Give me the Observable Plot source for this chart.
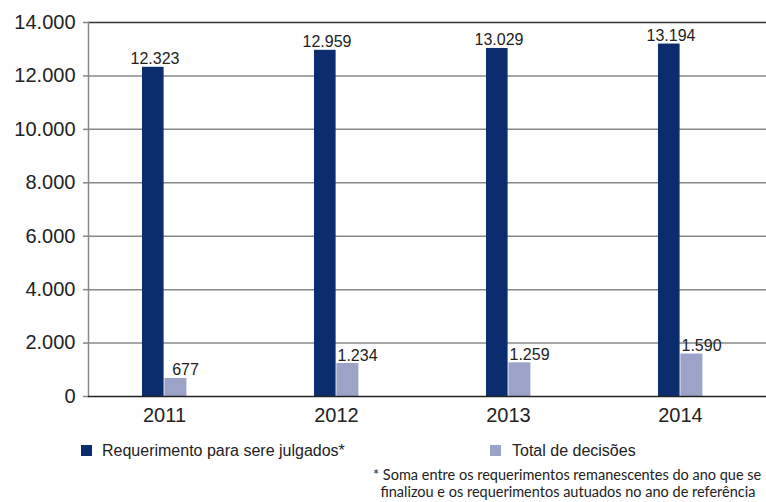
<!DOCTYPE html>
<html>
<head>
<meta charset="utf-8">
<script src="https://cdn.jsdelivr.net/npm/d3@7"></script>
<script src="https://cdn.jsdelivr.net/npm/@observablehq/plot@0.6"></script>
<style>
  html, body { margin: 0; padding: 0; background: #fff; }
  #wrap { position: relative; width: 766px; height: 502px; overflow: hidden; font-family: "Liberation Sans", Arial, sans-serif; }
  #chart { position: absolute; left: 0; top: 0; }
  .leg { position: absolute; font-size: 16px; color: #222; white-space: nowrap; line-height: 16px; }
  .sw { position: absolute; width: 11px; height: 11px; }
  .note { position: absolute; left: 373px; top: 466px; font-family: "Lato", "Open Sans", sans-serif; font-size: 14.5px; line-height: 17px; color: #222; white-space: nowrap; }
</style>
</head>
<body>
<div id="wrap">
  <div id="chart"></div>
  <div class="sw" style="left:81px; top:445px; background:#0b2d6e;"></div>
  <div class="leg" style="left:102px; top:443px;">Requerimento para sere julgados*</div>
  <div class="sw" style="left:490px; top:445px; background:#9ca3c7;"></div>
  <div class="leg" style="left:512px; top:443px;">Total de decisões</div>
  <div class="note">* Soma entre os requerimentos remanescentes do ano que se<br>&nbsp;&nbsp;finalizou e os requerimentos autuados no ano de referência</div>
</div>
<script>
const years = ["2011", "2012", "2013", "2014"];
const requerimentos = [12323, 12959, 13029, 13194];
const decisoes = [677, 1234, 1259, 1590];
const yTicks = [0, 2000, 4000, 6000, 8000, 10000, 12000, 14000];

const locale = d3.formatLocale({decimal: ",", thousands: ".", grouping: [3], currency: ["R$", ""]});
const fmt = locale.format(",d");

const dataReq = years.map((year, i) => ({year, value: requerimentos[i]}));
const dataDec = years.map((year, i) => ({year, value: decisoes[i]}));

const DARK = "#0b2d6e";
const LIGHT = "#9ca3c7";

const chart = Plot.plot({
  width: 766,
  height: 430,
  marginLeft: 88,
  marginRight: 0,
  marginTop: 22,
  marginBottom: 34,
  style: {fontFamily: "'Liberation Sans', Arial, sans-serif", background: "#fff", color: "#222"},
  x: {type: "band", domain: years, range: [75.9, 767.1], padding: 0, label: null},
  y: {domain: [0, 14000], ticks: yTicks, label: null},
  marks: [
    Plot.gridY(yTicks.slice(1, -1), {stroke: "#888", strokeOpacity: 1, strokeWidth: 1.5}),
    Plot.ruleY([14000], {stroke: "#333", strokeWidth: 1.5}),
    Plot.frame({anchor: "left", stroke: "#888", strokeWidth: 1.5}),
    Plot.barY(dataReq, {x: "year", y: "value", fill: DARK, insetLeft: 64, insetRight: 86.4}),
    Plot.barY(dataDec, {x: "year", y: "value", fill: LIGHT, insetLeft: 86.4, insetRight: 63.6}),
    Plot.ruleY([0], {stroke: "#222", strokeWidth: 1.5}),
    Plot.text(dataReq, {x: "year", y: "value", text: d => fmt(d.value), dx: -9.5, dy: -3, lineAnchor: "bottom", fontSize: 16, fill: "#222"}),
    Plot.text(dataDec, {x: "year", y: "value", text: d => fmt(d.value), dx: 21, dy: -3, lineAnchor: "bottom", fontSize: 16, fill: "#222"}),
    Plot.axisY({ticks: yTicks, tickFormat: fmt, tickSize: 5, tickPadding: 8, fontSize: 20, stroke: "#888", strokeWidth: 1.5, fill: "#222", label: null}),
    Plot.axisX({tickSize: 0, tickPadding: 11, fontSize: 20, fill: "#222", label: null})
  ]
});
document.getElementById("chart").appendChild(chart);
</script>
</body>
</html>
